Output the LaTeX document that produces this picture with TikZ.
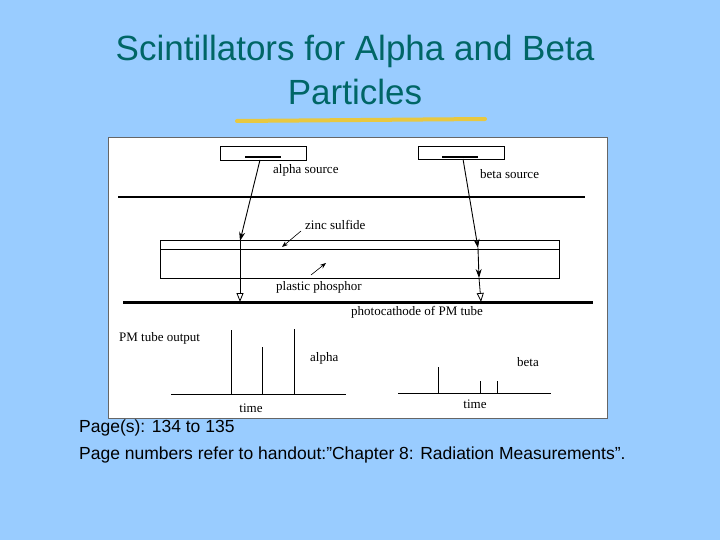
\documentclass[tikz,border=0pt]{standalone}
\usepackage{fontspec}
\setmainfont{Liberation Serif}
\newfontfamily\sans{Liberation Sans}
\usetikzlibrary{arrows.meta}
\definecolor{bg}{HTML}{99CCFF}
\definecolor{ttl}{HTML}{006666}
\definecolor{brush}{HTML}{E8C840}
\tikzset{lbl/.style={font=\fontsize{13}{14}\selectfont,inner sep=0pt},
 ln/.style={line width=0.8pt},
 thick3/.style={line width=3pt},
 filled/.style={-{Stealth[length=9pt,width=6pt]},line width=0.9pt},
 open/.style={-{Triangle[open,length=9pt,width=7pt]},line width=0.8pt}}
\begin{document}
\begin{tikzpicture}[x=1pt,y=-1pt]
\fill[bg] (0,0) rectangle (720,540);
\useasboundingbox (0,0) rectangle (720,540);
\node[font=\sans\fontsize{35}{44}\selectfont,text=ttl,align=center] (title) at (355,70) {Scintillators for Alpha and Beta\\Particles};
\draw[brush,line width=4pt,line cap=round] (237,121) -- (485,119);
\fill[white,draw=black!60] (108,137) rectangle (607,418);
% sources
\draw[ln] (220,146) rectangle (306,160);
\draw[line width=2pt] (245,157) -- (281,157);
\draw[ln] (418,146) rectangle (504,159);
\draw[line width=2pt] (442,157) -- (478,157);
\node[lbl,anchor=west] (as) at (273,170) {alpha source};
\node[lbl,anchor=west] (bs) at (480,174) {beta source};
% lines
\draw[line width=1.8pt] (118,197) -- (585,197);
\draw[ln] (160,240) rectangle (559,278);
\draw[ln] (160,249) -- (559,249);
\draw[thick3] (123,302) -- (593,302);
% labels
\node[lbl,anchor=west] (zs) at (305,225) {zinc sulfide};
\node[lbl,anchor=west] (pp) at (276,287) {plastic phosphor};
\node[lbl,anchor=west] (pc) at (351,312) {photocathode of PM tube};
\coordinate (zsa) at (282,247); \coordinate (zsf) at (301,231);
\draw[-{Stealth[length=6pt]},line width=0.6pt] (zsf) -- (zsa);
\coordinate (ppa) at (326,263); \coordinate (ppf) at (311,275);
\draw[-{Stealth[length=6pt]},line width=0.6pt] (ppf) -- (ppa);
% alpha path
\coordinate (a0) at (260,160); \coordinate (a1) at (240,241); \coordinate (a2) at (240,302);
\draw[filled] (a0) -- (a1);
\draw[open] (a1) -- (a2);
% beta path
\coordinate (b0) at (463,159); \coordinate (b1) at (478,248); \coordinate (b2) at (479,278); \coordinate (b3) at (481,302);
\draw[filled] (b0) -- (b1);
\draw[filled] (b1) -- (b2);
\draw[open] (b2) -- (b3);
% outputs
\node[lbl,anchor=west] (pm) at (119,338) {PM tube output};
\draw[ln] (171,394) -- (346,394);
\draw[ln] (231,394) -- (231,330);
\draw[ln] (262,394) -- (262,347);
\draw[ln] (294,394) -- (294,329);
\node[lbl,anchor=west] (al) at (310,358) {alpha};
\node[lbl] (t1) at (251,408) {time};
\draw[ln] (398,393) -- (551,393);
\draw[ln] (438,393) -- (438,367);
\draw[ln] (480,393) -- (480,381);
\draw[ln] (497,393) -- (497,381);
\node[lbl,anchor=west] (be) at (517,362) {beta};
\node[lbl] (t2) at (475,404) {time};
% footer
\node[font=\sans\fontsize{17.5}{21}\selectfont,anchor=west,inner sep=0pt] (f1) at (79,428) {Page(s): 134 to 135};
\node[font=\sans\fontsize{17.5}{21}\selectfont,anchor=west,inner sep=0pt] (f2) at (79,455) {Page numbers refer to handout:”Chapter 8: Radiation Measurements”.};
\end{tikzpicture}
\end{document}
